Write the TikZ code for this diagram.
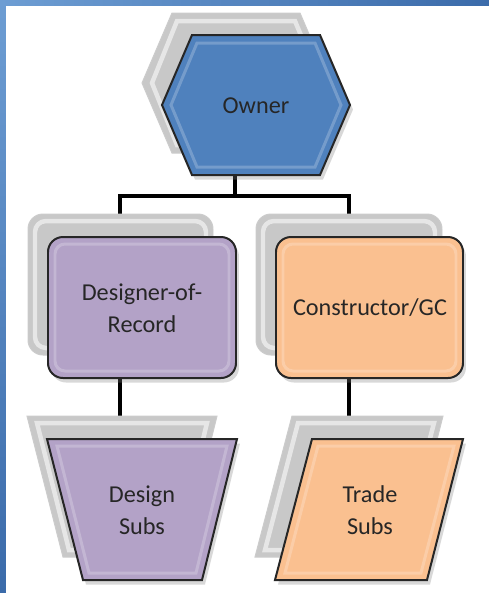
\documentclass[tikz,border=0pt]{standalone}
\usepackage{fontspec}
\setmainfont{Carlito}
\usetikzlibrary{shadows}
\definecolor{ownerblue}{HTML}{4F81BD}
\definecolor{dorpurple}{HTML}{B3A2C7}
\definecolor{gcorange}{HTML}{FAC090}
\definecolor{backgray}{HTML}{C8C8C8}
\definecolor{framelight}{HTML}{6D9DD3}
\definecolor{framedark}{HTML}{3B6BAA}
\tikzset{
  backshape/.style={fill=backgray, draw=black!20, line width=0.2mm},
  backbevel/.style={draw=white, line width=0.9mm, opacity=0.55},
  frontshape/.style={draw=black!85, line width=0.4mm, drop shadow={opacity=0.3, shadow xshift=0.6mm, shadow yshift=-0.9mm}},
  frontbevel/.style={draw=white, line width=0.6mm, opacity=0.22},
  boxtext/.style={font=\fontsize{13.8}{18}\selectfont, text=black!85, align=center},
  link/.style={line width=0.8mm, black},
}

\begin{document}
\begin{tikzpicture}[x=0.02cm, y=-0.02cm]
	%%%%% FRAME %%%%%
	\useasboundingbox (0, 0) rectangle (489, 593);
	\fill[white] (0, 0) rectangle (489, 593);
	\shade[top color=framelight, bottom color=framedark] (0, 0) rectangle (6, 593);
	\shade[left color=framelight, right color=framedark] (0, 0) rectangle (489, 5);
	
	%%%%% CONNECTION POINTS %%%%%
	\coordinate (owner-s) at (235, 175);
	\coordinate (split) at (235, 196);
	\coordinate (dor-n) at (120, 214);
	\coordinate (gc-n) at (349, 214);
	\coordinate (dor-s) at (120, 378);
	\coordinate (dsubs-n) at (120, 416);
	\coordinate (gc-s) at (349, 378);
	\coordinate (tsubs-n) at (349, 416);
	
	\draw[link] (owner-s) -- (split) (dor-n) |- (split) -| (gc-n);
	\draw[link] (dor-s) -- (dsubs-n);
	\draw[link] (gc-s) -- (tsubs-n);
	
	%%%%% OWNER %%%%%
	\draw[backshape] (142, 83) -- (172, 13) -- (300, 13) -- (330, 83) -- (300, 153) -- (172, 153) -- cycle;
	\draw[backbevel] (152, 83) -- (177, 21) -- (295, 21) -- (321, 83) -- (295, 145) -- (177, 145) -- cycle;
	\draw[frontshape, fill=ownerblue] (162, 105) -- (192, 35) -- (320, 35) -- (350, 105) -- (320, 175) -- (192, 175) -- cycle;
	\draw[frontbevel] (171, 105) -- (197, 43) -- (315, 43) -- (341, 105) -- (315, 167) -- (197, 167) -- cycle;
	\node[boxtext] (owner) at (256, 106) {Owner};
	
	%%%%% DESIGNER-OF-RECORD %%%%%
	\draw[backshape, rounded corners=0.3cm] (28, 214) rectangle (213, 355);
	\draw[backbevel, rounded corners=0.22cm] (35, 221) rectangle (206, 348);
	\draw[frontshape, fill=dorpurple, rounded corners=0.3cm] (48, 237) rectangle (236, 378);
	\draw[frontbevel, rounded corners=0.2cm] (55, 244) rectangle (229, 371);
	\node[boxtext] (dor) at (142, 308) {Designer-of-\\Record};
	
	%%%%% CONSTRUCTOR %%%%%
	\draw[backshape, rounded corners=0.3cm] (256, 214) rectangle (442, 355);
	\draw[backbevel, rounded corners=0.22cm] (263, 221) rectangle (435, 348);
	\draw[frontshape, fill=gcorange, rounded corners=0.3cm] (276, 237) rectangle (463, 378);
	\draw[frontbevel, rounded corners=0.2cm] (283, 244) rectangle (456, 371);
	\node[boxtext] (gc) at (370, 308) {Constructor/GC};
	
	%%%%% DESIGN SUBS %%%%%
	\draw[backshape] (27, 416) -- (217, 416) -- (182, 557) -- (63, 557) -- cycle;
	\draw[backbevel] (37, 423) -- (207, 423) -- (176, 550) -- (69, 550) -- cycle;
	\draw[frontshape, fill=dorpurple] (47, 439) -- (237, 439) -- (202, 580) -- (83, 580) -- cycle;
	\draw[frontbevel] (57, 446) -- (227, 446) -- (196, 573) -- (89, 573) -- cycle;
	\node[boxtext] (dsubs) at (142, 510) {Design\\Subs};
	
	%%%%% TRADE SUBS %%%%%
	\draw[backshape] (292, 416) -- (443, 416) -- (407, 557) -- (255, 557) -- cycle;
	\draw[backbevel] (298, 423) -- (434, 423) -- (401, 550) -- (265, 550) -- cycle;
	\draw[frontshape, fill=gcorange] (312, 439) -- (463, 439) -- (427, 580) -- (275, 580) -- cycle;
	\draw[frontbevel] (318, 446) -- (454, 446) -- (421, 573) -- (285, 573) -- cycle;
	\node[boxtext] (tsubs) at (370, 510) {Trade\\Subs};
\end{tikzpicture}
\end{document}
